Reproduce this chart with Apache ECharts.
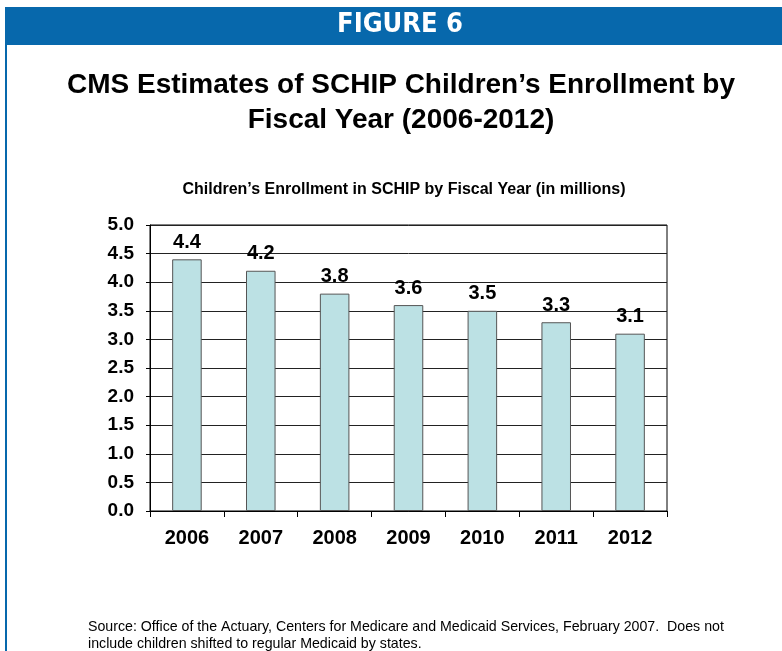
<!DOCTYPE html>
<html>
<head>
<meta charset="utf-8">
<script src="https://cdn.jsdelivr.net/npm/echarts@6/dist/echarts.min.js"></script>
<style>
  html, body { margin: 0; padding: 0; background: #fff; }
  #chart { width: 782px; height: 651px; }
</style>
</head>
<body>
<div id="chart"></div>
<script>
const years = ["2006", "2007", "2008", "2009", "2010", "2011", "2012"];
const enrollment = [4.4, 4.2, 3.8, 3.6, 3.5, 3.3, 3.1];
const yTicks = { min: 0, max: 5, interval: 0.5 };

const chart = echarts.init(document.getElementById("chart"));
const font = "Liberation Sans, Arial, sans-serif";

chart.setOption({
  animation: false,
  backgroundColor: "#fff",
  graphic: [
    // header band + left rule
    { type: "rect", shape: { x: 5, y: 7, width: 777, height: 38 }, style: { fill: "#0768AC" } },
    { type: "rect", shape: { x: 5, y: 45, width: 2, height: 606 }, style: { fill: "#0768AC" } },
    {
      type: "text", x: 400, y: 25,
      style: {
        text: "FIGURE 6", fill: "#fff", align: "center", verticalAlign: "middle",
        font: "bold 27px 'DejaVu Sans Condensed', 'DejaVu Sans', sans-serif",
      },
    },
    {
      type: "text", x: 401, y: 103,
      style: {
        text: "CMS Estimates of SCHIP Children\u2019s Enrollment by\nFiscal Year (2006-2012)",
        fill: "#000", align: "center", verticalAlign: "middle", lineHeight: 35,
        font: "bold 28px " + font,
      },
    },
    {
      type: "text", x: 404, y: 190,
      style: {
        text: "Children\u2019s Enrollment in SCHIP by Fiscal Year (in millions)",
        fill: "#000", align: "center", verticalAlign: "middle",
        font: "bold 16px " + font,
      },
    },
    {
      type: "text", x: 88, y: 636,
      style: {
        text: "Source: Office of the Actuary, Centers for Medicare and Medicaid Services, February 2007.  Does not\ninclude children shifted to regular Medicaid by states.",
        fill: "#000", align: "left", verticalAlign: "middle", lineHeight: 17,
        font: "14.2px " + font,
      },
    },
  ],
  grid: {
    left: 150, right: 115, top: 225, bottom: 140,
    show: true, borderColor: "#000", borderWidth: 1,
  },
  xAxis: {
    type: "category",
    data: years,
    axisLine: { lineStyle: { color: "#000" } },
    axisTick: { show: true, length: 6, lineStyle: { color: "#000" } },
    axisLabel: { color: "#000", fontFamily: font, fontWeight: "bold", fontSize: 20, margin: 17 },
  },
  yAxis: {
    type: "value",
    min: yTicks.min, max: yTicks.max, interval: yTicks.interval,
    axisLine: { show: true, lineStyle: { color: "#000" } },
    axisTick: { show: true, length: 4, lineStyle: { color: "#000" } },
    splitLine: { lineStyle: { color: "#222" } },
    axisLabel: {
      color: "#000", fontFamily: font, fontWeight: "bold", fontSize: 19, margin: 16,
      formatter: (v) => v.toFixed(1),
    },
  },
  series: [
    {
      type: "bar",
      data: enrollment,
      barWidth: "40%",
      itemStyle: { color: "#BCE1E4", borderColor: "#555", borderWidth: 1 },
      label: {
        show: true, position: "top", distance: 7,
        color: "#000", fontFamily: font, fontWeight: "bold", fontSize: 20,
        formatter: (p) => p.value.toFixed(1),
      },
    },
  ],
});
</script>
</body>
</html>
